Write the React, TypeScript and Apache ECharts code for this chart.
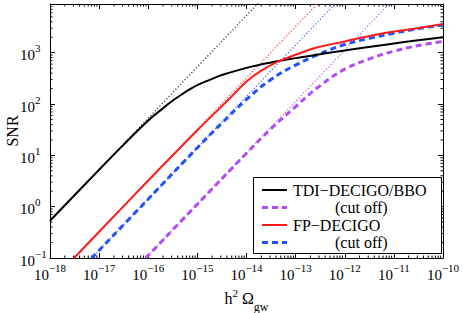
import React, { useEffect, useRef } from "react";
import * as echarts from "echarts";

// ---- data ----
const tdiX = [1e-18, 1e-17, 3.16e-17, 1e-16, 2e-16, 3.16e-16, 5e-16, 7.08e-16, 1e-15, 2e-15, 3.16e-15, 1e-14, 3.16e-14, 1e-13, 3.16e-13, 1e-12, 1e-11, 1e-10];
const tdiY = [0.531, 5.25, 16.2, 47.9, 83, 117, 158, 195, 234, 309, 367, 507, 646, 785, 933, 1109, 1514, 1995];

const tdiCutX = [8.91e-17, 1e-15, 1e-14, 3.16e-14, 1e-13, 3.16e-13, 1e-12, 3.16e-12, 1e-11, 3.16e-11, 1e-10];
const tdiCutY = [0.1, 1.12, 11.0, 33.1, 89.1, 229, 479, 759, 1072, 1380, 1660];

const fpX = [3.09e-18, 1e-17, 1e-16, 1e-15, 3.16e-15, 5.62e-15, 1e-14, 2e-14, 4.47e-14, 1e-13, 2.69e-13, 1e-12, 6.17e-12, 3.16e-11, 1e-10];
const fpY = [0.1, 0.324, 3.24, 30.9, 91.2, 158, 275, 447, 676, 912, 1259, 1660, 2399, 3020, 3631];

const fpCutX = [7.08e-18, 1e-16, 1e-15, 3.16e-15, 1e-14, 3.16e-14, 1e-13, 3.16e-13, 1e-12, 3.16e-12, 1e-11, 3.16e-11, 1e-10];
const fpCutY = [0.1, 1.41, 14.1, 42.7, 123, 302, 575, 955, 1445, 1905, 2399, 2951, 3467];

// weak-signal (linear) extrapolations, dotted
const tdiLinX = [1e-18, 1e-13];
const tdiLinY = [0.531, 53100];
const tdiCutLinX = [8.91e-17, 1e-11];
const tdiCutLinY = [0.1, 11200];
const fpLinX = [3.09e-18, 1e-12];
const fpLinY = [0.1, 32400];
const fpCutLinX = [7.08e-18, 1e-12];
const fpCutLinY = [0.1, 14100];

const xDecades = [-18, -17, -16, -15, -14, -13, -12, -11, -10];
const yDecades = [-1, 0, 1, 2, 3];
const X_MIN = 1e-18;
const X_MAX = 1e-10;
const Y_MIN = 0.1;
const Y_MAX = 8900;

const legendNames = ["TDI\u2212DECIGO/BBO", "(cut off)", "FP\u2212DECIGO", "(cut off)"];

const FONT = "'Liberation Serif', 'DejaVu Serif', serif";
const BLACK = "#000000";
const PURPLE = "#b04cf7";
const RED = "#ff1a1a";
const BLUE = "#2451ff";

const zip = (xs: number[], ys: number[]) => xs.map((x, i) => [x, ys[i]]);

function expLabel(v: number) {
  const e = Math.log10(v);
  const r = Math.round(e);
  if (Math.abs(e - r) > 0.01 || r > 3) return "";
  const s = r < 0 ? "\u2212" + -r : String(r);
  return "{b|10}{s|" + s + "}";
}

function minorTicks() {
  const out: number[][] = [];
  for (const d of xDecades) {
    for (let k = 2; k <= 9; k++) {
      const v = k * Math.pow(10, d);
      if (v > X_MIN && v < X_MAX) out.push([v, Y_MIN, 0]);
    }
  }
  for (const d of yDecades) {
    for (let k = 2; k <= 9; k++) {
      const v = k * Math.pow(10, d);
      if (v > Y_MIN && v < Y_MAX) out.push([X_MIN, v, 1]);
    }
  }
  return out;
}

export default function App() {
  const ref = useRef<HTMLDivElement>(null);
  useEffect(() => {
    if (!ref.current) return;
    const chart = echarts.init(ref.current, undefined, { renderer: "svg" });
    const rich = {
      b: { fontSize: 15, fontFamily: FONT, color: "#000", verticalAlign: "bottom", lineHeight: 20 },
      s: { fontSize: 11, fontFamily: FONT, color: "#000", verticalAlign: "top", lineHeight: 20 },
    };
    const axisCommon = {
      type: "log" as const,
      logBase: 10,
      axisLine: { show: true, lineStyle: { color: "#000", width: 1 } },
      axisTick: { show: true, inside: true, length: 5, lineStyle: { color: "#000" } },
      splitLine: { show: false },
      nameMoveOverlap: false,
    };
    const dotted = (data: number[][], color: string, z: number) => ({
      type: "line",
      data,
      showSymbol: false,
      symbol: "none",
      lineStyle: { color, width: 1.3, type: [1.2, 2.1] },
      z,
      silent: true,
    });
    const curve = (xs: number[], ys: number[], color: string, width: number, type: any, z: number) => ({
      type: "line",
      data: zip(xs, ys),
      showSymbol: false,
      symbol: "none",
      smooth: 0.4,
      lineStyle: { color, width, type },
      z,
    });
    const legendRows = [
      { y: 190, color: BLACK, dash: null as number[] | null, width: 2, text: legendNames[0], tx: 293 },
      { y: 207.5, color: PURPLE, dash: [6, 4], width: 3, text: legendNames[1], tx: 335 },
      { y: 225, color: RED, dash: null, width: 2, text: legendNames[2], tx: 293 },
      { y: 242.5, color: BLUE, dash: [6, 4], width: 3, text: legendNames[3], tx: 335 },
    ];
    const graphic: any[] = [
      {
        type: "rect",
        shape: { x: 253.5, y: 177.5, width: 188, height: 76 },
        style: { fill: "#fff", stroke: "#000", lineWidth: 1 },
        z: 100,
      },
    ];
    legendRows.forEach((r) => {
      graphic.push({
        type: "line",
        shape: { x1: 262, y1: r.y, x2: 287, y2: r.y },
        style: { stroke: r.color, lineWidth: r.width, lineDash: r.dash || undefined },
        z: 101,
      });
      graphic.push({
        type: "text",
        x: r.tx,
        y: r.y,
        style: { text: r.text, fontSize: 16, fontFamily: FONT, fill: "#000", verticalAlign: "middle" },
        z: 101,
      });
    });

    chart.setOption({
      animation: false,
      backgroundColor: "#fff",
      grid: { left: 50, right: 20, top: 4, bottom: 55, containLabel: false, outerBoundsMode: "none" },
      xAxis: [
        {
          ...axisCommon,
          min: X_MIN,
          max: X_MAX,
          position: "bottom",
          axisLabel: { formatter: expLabel, rich, margin: 4, color: "#000" },
          name: "{a|h}{s|2}{a| \u03A9}{g|gw}",
          nameLocation: "middle",
          nameGap: 25,
          nameTextStyle: {
            rich: {
              a: { fontSize: 16, fontFamily: FONT, color: "#000", lineHeight: 30 },
              s: { fontSize: 11, fontFamily: FONT, color: "#000", verticalAlign: "top", lineHeight: 30, padding: [4, 0, 0, 0] },
              g: { fontSize: 12, fontFamily: FONT, color: "#000", verticalAlign: "bottom", lineHeight: 30 },
            },
          },
        },
        {
          ...axisCommon,
          min: X_MIN,
          max: X_MAX,
          position: "top",
          axisLabel: { show: false },
        },
      ],
      yAxis: [
        {
          ...axisCommon,
          min: Y_MIN,
          max: Y_MAX,
          position: "left",
          axisLabel: { formatter: expLabel, rich, margin: 30, align: "left", color: "#000" },
          name: "SNR",
          nameLocation: "middle",
          nameGap: 30,
          nameTextStyle: { fontSize: 16, fontFamily: FONT, color: "#000" },
        },
        {
          ...axisCommon,
          min: Y_MIN,
          max: Y_MAX,
          position: "right",
          axisLabel: { show: false },
        },
      ],
      graphic,
      series: [
        {
          type: "custom",
          coordinateSystem: "cartesian2d",
          data: minorTicks(),
          clip: false,
          silent: true,
          z: 1,
          renderItem: (params: any, api: any) => {
            const v0 = api.value(0);
            const v1 = api.value(1);
            const kind = api.value(2);
            const len = 2.5;
            const st = { stroke: "#000", lineWidth: 1 };
            if (kind === 0) {
              const pb = api.coord([v0, Y_MIN]);
              const pt = api.coord([v0, Y_MAX]);
              return {
                type: "group",
                children: [
                  { type: "line", shape: { x1: pb[0], y1: pb[1], x2: pb[0], y2: pb[1] - len }, style: st },
                  { type: "line", shape: { x1: pt[0], y1: pt[1], x2: pt[0], y2: pt[1] + len }, style: st },
                ],
              };
            }
            const pl = api.coord([X_MIN, v1]);
            const pr = api.coord([X_MAX, v1]);
            return {
              type: "group",
              children: [
                { type: "line", shape: { x1: pl[0], y1: pl[1], x2: pl[0] + len, y2: pl[1] }, style: st },
                { type: "line", shape: { x1: pr[0], y1: pr[1], x2: pr[0] - len, y2: pr[1] }, style: st },
              ],
            };
          },
        },
        dotted(zip(tdiLinX, tdiLinY), "#3a3a3a", 2),
        dotted(zip(tdiCutLinX, tdiCutLinY), "#bb66f8", 2),
        dotted(zip(fpLinX, fpLinY), "#ff4a4a", 2),
        dotted(zip(fpCutLinX, fpCutLinY), "#4a6aff", 2),
        curve(tdiCutX, tdiCutY, PURPLE, 3, [6, 4], 3),
        curve(fpCutX, fpCutY, BLUE, 3, [6, 4], 4),
        curve(tdiX, tdiY, BLACK, 2, "solid", 5),
        curve(fpX, fpY, RED, 2, "solid", 6),
      ],
    });
    return () => chart.dispose();
  }, []);
  return (
    <div
      ref={ref}
      style={{ position: "absolute", left: 0, top: 0, width: 463, height: 313, background: "#fff" }}
    />
  );
}
